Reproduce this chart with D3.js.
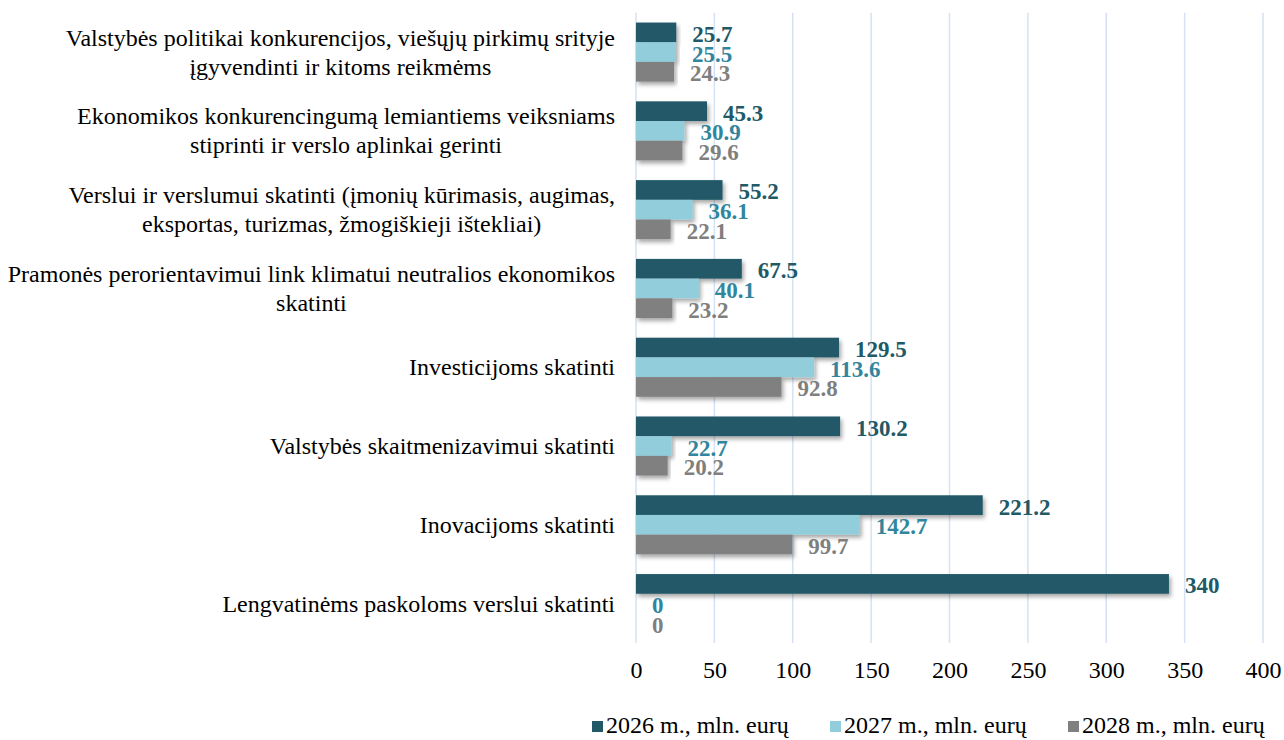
<!DOCTYPE html>
<html><head><meta charset="utf-8">
<script src="https://cdn.jsdelivr.net/npm/d3@7"></script>
<style>
html,body{margin:0;padding:0;background:#fff;}
svg{display:block;}
text{font-family:"Liberation Serif","Times New Roman",serif;}
</style></head>
<body>
<svg id="chart" width="1284" height="740"></svg>
<script>
const categories = [
  ["Valstybės politikai konkurencijos, viešųjų pirkimų srityje", "įgyvendinti ir kitoms reikmėms"],
  ["Ekonomikos konkurencingumą lemiantiems veiksniams", "stiprinti ir verslo aplinkai gerinti"],
  ["Verslui ir verslumui skatinti (įmonių kūrimasis, augimas,", "eksportas, turizmas, žmogiškieji ištekliai)"],
  ["Pramonės perorientavimui link klimatui neutralios ekonomikos", "skatinti"],
  ["Investicijoms skatinti"],
  ["Valstybės skaitmenizavimui skatinti "],
  ["Inovacijoms skatinti"],
  ["Lengvatinėms paskoloms verslui skatinti"]
];
const seriesNames = ["2026 m., mln. eurų", "2027 m., mln. eurų", "2028 m., mln. eurų"];
const values2026 = [25.7, 45.3, 55.2, 67.5, 129.5, 130.2, 221.2, 340];
const values2027 = [25.5, 30.9, 36.1, 40.1, 113.6, 22.7, 142.7, 0];
const values2028 = [24.3, 29.6, 22.1, 23.2, 92.8, 20.2, 99.7, 0];
const xTicks = [0, 50, 100, 150, 200, 250, 300, 350, 400];

const barColors = ["#215967", "#92CDDC", "#808080"];
const labelColors = ["#215967", "#31859C", "#7F7F7F"];

const series = [values2026, values2027, values2028];
const svg = d3.select("#chart");
const FONT = '"Liberation Serif","Times New Roman",serif';

const plotLeft = 636, plotRight = 1263, plotTop = 12.7, plotBottom = 643;
const x = d3.scaleLinear().domain([0, 400]).range([plotLeft, plotRight]);
const y = d3.scaleBand().domain(d3.range(categories.length)).range([plotTop, plotBottom]).paddingInner(0.25).paddingOuter(0.125);
const y1 = d3.scaleBand().domain(d3.range(series.length)).range([0, y.bandwidth()]);

// shadow filter
const defs = svg.append("defs");
const f = defs.append("filter").attr("id", "sh").attr("x", "-5%").attr("y", "-30%").attr("width", "115%").attr("height", "190%");
f.append("feDropShadow").attr("dx", 2).attr("dy", 3).attr("stdDeviation", 2).attr("flood-color", "#000").attr("flood-opacity", 0.35);

// gridlines
svg.append("g").selectAll("line").data(xTicks).join("line")
  .attr("x1", d => x(d)).attr("x2", d => x(d))
  .attr("y1", plotTop).attr("y2", plotBottom)
  .attr("stroke", "#D5E2F3").attr("stroke-width", 1.5);

// x axis
const xAxis = svg.append("g").attr("transform", `translate(0,${plotBottom})`)
  .call(d3.axisBottom(x).tickValues(xTicks).tickSize(0).tickPadding(18));
xAxis.select(".domain").remove();
xAxis.selectAll("text").attr("font-size", 24).attr("fill", "#000")
  .style("font-family", FONT);

// bars
const idx = d3.range(categories.length);
const groups = svg.append("g").selectAll("g").data(idx).join("g")
  .attr("transform", i => `translate(0,${y(i)})`);

series.forEach((vals, s) => {
  groups.append("rect")
    .attr("x", x(0))
    .attr("y", y1(s))
    .attr("width", i => Math.max(0, x(vals[i]) - x(0)))
    .attr("height", y1.bandwidth())
    .attr("fill", barColors[s])
    .attr("filter", i => vals[i] > 0 ? "url(#sh)" : null);
});

// value labels
series.forEach((vals, s) => {
  groups.append("text")
    .attr("x", i => x(vals[i]) + 16)
    .attr("y", y1(s) + y1.bandwidth() / 2 + 2)
    .attr("dominant-baseline", "central")
    .attr("font-size", 23).attr("font-weight", "bold")
    .attr("fill", labelColors[s])
    .text(i => vals[i]);
});

// category labels
const catG = svg.append("g");
categories.forEach((lines, i) => {
  const cy = y(i) + y.bandwidth() / 2;
  const lh = 29;
  const t = catG.append("text").attr("font-size", 24).attr("fill", "#000");
  lines.forEach((ln, j) => {
    t.append("tspan").attr("y", cy + (j - (lines.length - 1) / 2) * lh)
      .attr("dominant-baseline", "central").text(ln);
  });
  const tspans = t.selectAll("tspan").nodes();
  const widths = tspans.map(n => n.getComputedTextLength());
  const maxW = d3.max(widths);
  const rightEdge = 615;
  tspans.forEach(n => {
    d3.select(n).attr("x", rightEdge - maxW / 2).attr("text-anchor", "middle");
  });
});

// legend
const legend = svg.append("g");
const legX = [592, 830, 1068];
seriesNames.forEach((name, s) => {
  legend.append("rect").attr("x", legX[s]).attr("y", 721).attr("width", 11).attr("height", 11).attr("fill", barColors[s]);
  legend.append("text").attr("x", legX[s] + 14).attr("y", 733).attr("font-size", 24).attr("fill", "#000").text(name);
});
</script>
</body></html>
